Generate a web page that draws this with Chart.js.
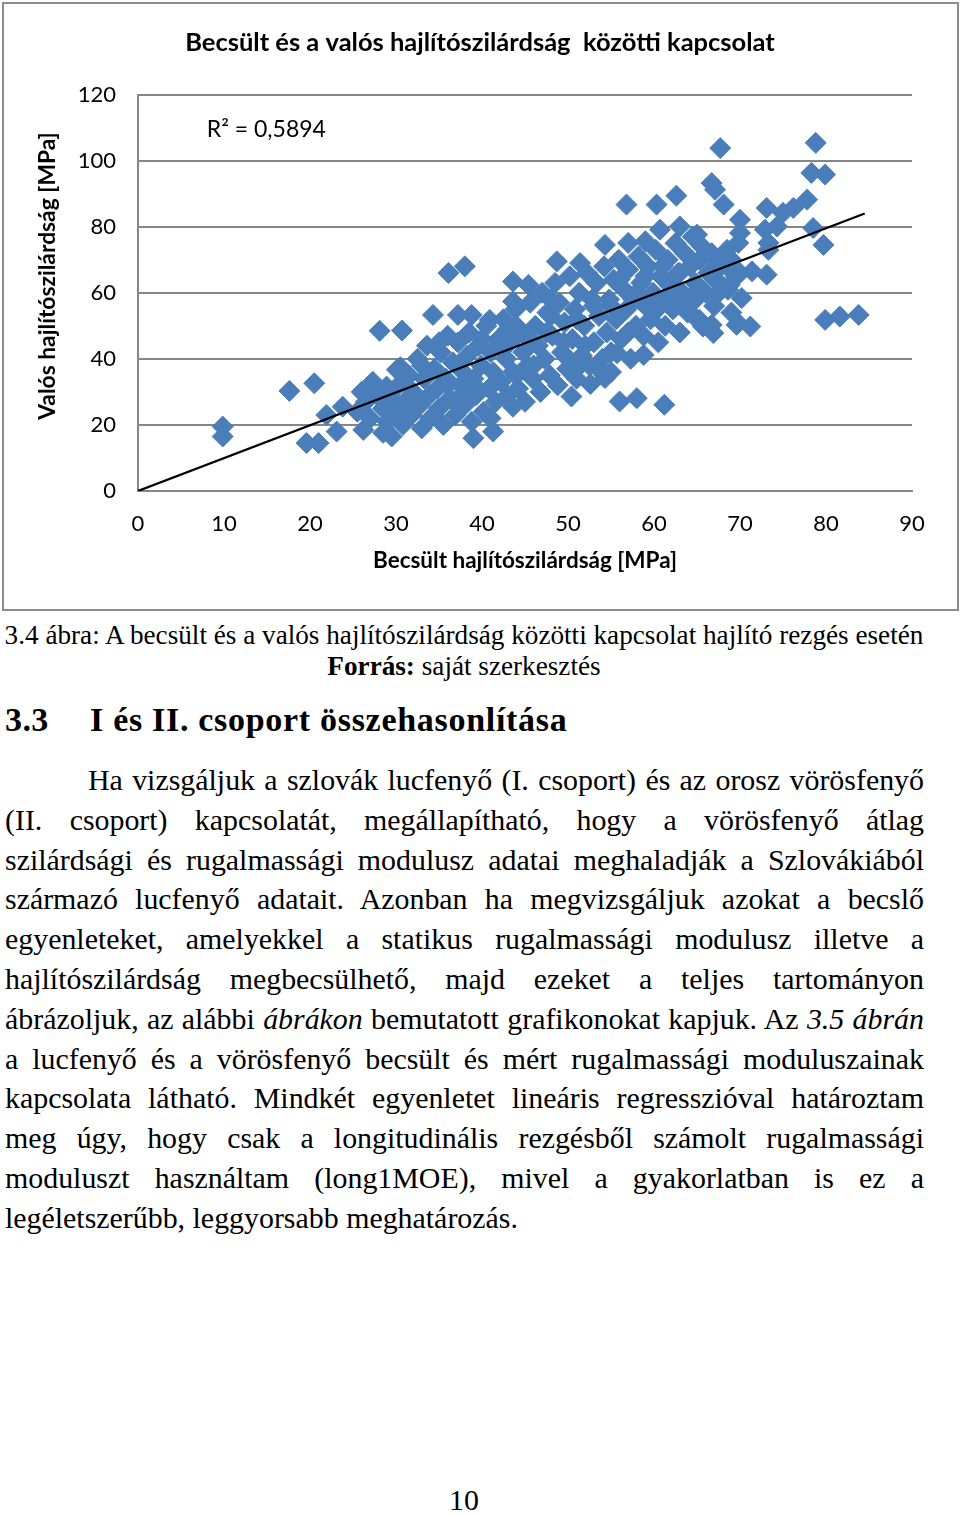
<!DOCTYPE html>
<html lang="hu">
<head>
<meta charset="utf-8">
<script src="https://cdn.jsdelivr.net/npm/chart.js@4.4.1/dist/chart.umd.min.js"></script>
<style>
body{margin:0;width:960px;height:1515px;background:#fff;position:relative;font-family:"Liberation Serif","Times New Roman",serif;color:#000}
#frame{position:absolute;left:2px;top:2px;width:953px;height:605px;border:2px solid #8c8c8c}
#wrap{position:absolute;left:5px;top:5px;width:950px;height:603px}
.ln{position:absolute;white-space:nowrap}
#par{position:absolute;left:5px;top:760px;width:919px;font-size:29.9px;line-height:39.8px}
#par div{text-align:justify;text-align-last:justify;height:39.8px;white-space:nowrap}
#par div.last{text-align:left;text-align-last:left}
</style>
</head>
<body>
<div id="frame"></div>
<div id="wrap"><canvas id="chart"></canvas></div>

<div class="ln" style="left:3px;width:922px;top:619px;font-size:27.2px;line-height:32px;text-align:center">3.4 ábra: A becsült és a valós hajlítószilárdság közötti kapcsolat hajlító rezgés esetén</div>
<div class="ln" style="left:3px;width:922px;top:650px;font-size:27.2px;line-height:32px;text-align:center"><b>Forrás:</b> saját szerkesztés</div>

<div class="ln" style="left:5px;top:699px;font-size:34px;line-height:42px;font-weight:bold;letter-spacing:0.4px">3.3</div>
<div class="ln" style="left:90px;top:699px;font-size:34px;line-height:42px;font-weight:bold;letter-spacing:0.7px">I és II. csoport összehasonlítása</div>

<div id="par">
<div style="padding-left:83px">Ha vizsgáljuk a szlovák lucfenyő (I. csoport) és az orosz vörösfenyő</div>
<div>(II. csoport) kapcsolatát, megállapítható, hogy a vörösfenyő átlag</div>
<div>szilárdsági és rugalmassági modulusz adatai meghaladják a Szlovákiából</div>
<div>származó lucfenyő adatait. Azonban ha megvizsgáljuk azokat a becslő</div>
<div>egyenleteket, amelyekkel a statikus rugalmassági modulusz illetve a</div>
<div>hajlítószilárdság megbecsülhető, majd ezeket a teljes tartományon</div>
<div>ábrázoljuk, az alábbi <i>ábrákon</i> bemutatott grafikonokat kapjuk. Az <i>3.5 ábrán</i></div>
<div>a lucfenyő és a vörösfenyő becsült és mért rugalmassági moduluszainak</div>
<div>kapcsolata látható. Mindkét egyenletet lineáris regresszióval határoztam</div>
<div>meg úgy, hogy csak a longitudinális rezgésből számolt rugalmassági</div>
<div>moduluszt használtam (long1MOE), mivel a gyakorlatban is ez a</div>
<div class="last">legéletszerűbb, leggyorsabb meghatározás.</div>
</div>

<div class="ln" style="left:434px;width:60px;top:1483px;font-size:29.9px;line-height:34px;text-align:center">10</div>

<script>
// szélső, jól kivehető pontok (becsült, valós)
var szeloBecsult = [9.85,9.85,17.6,20.5,19.6,21.0,23.1,21.9,23.8,26.2,28.5,27.3,28.9,30.1,28.1,30.7,34.3,36.1,38.0,43.6,
  45.4,43.6,37.2,38.8,40.9,30.5,43.6,39.0,41.3,29.5,56.8,60.3,54.3,57.0,59.0,48.7,51.4,56.0,58.0,55.7,
  58.8,50.4,61.2,54.3,52.6,67.7,66.7,67.1,68.1,62.6,60.7,63.0,65.0,70.0,65.7,66.9,69.6,67.1,78.8,78.3,
  79.9,73.1,75.0,76.2,77.8,70.0,69.8,72.9,74.3,73.3,78.5,79.7,73.3,68.5,70.0,71.4,73.1,68.8,65.3,64.8,
  67.3,68.6,70.2,63.0,65.3,66.7,69.8,71.2,79.9,81.6,83.8];
var szeloValos = [19.5,16.5,30.3,32.6,14.5,14.5,18.0,23.0,25.5,18.5,17.6,33.1,31.6,36.7,48.5,48.6,53.3,66.0,68.0,63.4,
  62.4,57.4,53.3,53.3,51.8,37.5,25.5,16.0,18.0,16.5,86.7,86.7,74.5,75.1,75.6,69.5,69.0,27.1,28.1,41.7,
  41.2,28.6,26.1,34.2,32.4,103.8,93.2,91.2,86.7,89.4,79.1,80.1,77.6,82.1,49.8,47.8,50.3,63.9,105.4,96.3,
  95.8,85.7,84.2,85.7,88.2,78.1,75.1,79.1,80.1,75.1,79.6,74.5,73.0,68.0,66.0,66.5,65.5,62.4,61.4,57.9,
  59.4,60.9,58.4,56.4,51.8,50.3,50.8,49.8,51.8,52.8,53.3];

// a sűrű középső felhő
var suruBecsult = [25.5,26.5,27.0,27.8,28.5,29.0,29.5,30.0,30.3,26.0,
  30.8,31.0,31.5,31.8,32.0,32.5,32.8,33.0,33.3,33.6,33.9,34.0,
  34.5,34.8,35.0,35.2,35.5,35.8,36.0,36.3,36.6,36.9,37.2,37.5,37.8,38.0,
  38.3,38.5,38.8,39.0,39.3,39.6,39.9,40.2,40.5,40.8,41.0,41.3,41.6,41.9,
  42.2,42.5,42.8,43.0,43.3,43.6,43.9,44.2,44.5,44.8,45.0,45.3,45.6,45.9,
  46.2,46.5,46.8,47.0,47.3,47.6,47.9,48.2,48.5,48.8,49.0,49.3,49.6,49.9,
  50.2,50.5,50.8,51.0,51.3,51.6,51.9,52.2,52.5,52.8,53.0,53.3,53.6,53.9,
  54.2,54.5,54.8,55.0,55.3,55.6,55.9,56.2,56.5,56.8,57.0,57.3,57.6,57.9,
  58.2,58.5,58.8,59.0,59.3,59.6,59.9,60.2,60.5,60.8,61.0,61.3,61.6,61.9,
  62.2,62.5,62.8,63.0,63.3,63.6,63.9,64.2,64.5,64.8,65.0,65.3,65.6,
  66.3,66.7,67.0,67.5,68.0,68.5,69.0,69.5,
  33.0,35.0,37.0,39.5,40.0,41.0,42.0,44.0,44.0,45.5,46.0,47.5,48.0,49.5,50.0,51.0,52.0,53.0,54.0,55.0,
  56.0,57.0,58.0,59.0,60.0,61.0,62.0,63.0,64.0,66.0,67.0,69.0,36.0,32.0,38.0,43.0,48.0,51.0,55.0];
var suruValos = [24,27,22,29,25,21,28,24,32,30,
  20,27,35,23,30,40,26,19,34,44,29,22,
  37,31,25,42,20,34,47,28,39,23,45,32,36,26,
  41,48,21,34,29,44,38,24,50,31,42,36,27,46,
  33,52,40,29,45,36,55,31,48,42,27,38,57,34,
  50,44,30,60,40,54,35,47,63,32,57,42,51,37,
  65,46,55,34,60,41,50,66,38,58,45,63,53,36,
  68,48,58,42,64,52,70,46,61,55,67,40,58,50,
  71,63,47,56,68,52,60,73,45,65,57,50,70,62,
  55,75,66,48,60,72,54,68,77,63,52,70,74,
  66,72,56,69,62,73,54,65,
  38,45,27,31,46,22,44,50,35,46,38,48,58,45,40,52,44,56,40,56,
  64,48,60,65,54,68,60,66,58,60,66,70,32,25,30,49,53,37,36];

// trendvonal (lineáris) végpontjai
var trendBecsult = [0, 84.5];
var trendValos = [0, 84];
var rNegyzet = 'R² = 0,5894';

var cim = 'Becsült és a valós hajlítószilárdság  közötti kapcsolat';
var xCim = 'Becsült hajlítószilárdság [MPa]';
var yCim = 'Valós hajlítószilárdság [MPa]';

var pontok = [];
for (var i = 0; i < szeloBecsult.length; i++) pontok.push({x: szeloBecsult[i], y: szeloValos[i]});
for (var j = 0; j < suruBecsult.length; j++) pontok.push({x: suruBecsult[j], y: suruValos[j]});
var trend = trendBecsult.map(function(v, k) { return {x: v, y: trendValos[k]}; });

var szurke = '#868686';

// y tengely felirata és az R² szöveg
var feliratok = {
  id: 'feliratok',
  afterDraw: function(chart) {
    var ctx = chart.ctx;
    var sx = chart.scales.x, sy = chart.scales.y;
    ctx.save();
    ctx.fillStyle = '#000';
    ctx.font = '23px Lato';
    ctx.textBaseline = 'middle';
    ctx.textAlign = 'left';
    ctx.fillText(rNegyzet, sx.getPixelForValue(8), sy.getPixelForValue(109.4));
    ctx.translate(43, 271);
    ctx.rotate(-Math.PI / 2);
    ctx.textAlign = 'center';
    ctx.font = 'bold 22.8px Lato';
    ctx.fillText(yCim, 0, 0);
    ctx.restore();
  }
};

var chart = new Chart(document.getElementById('chart'), {
  type: 'scatter',
  data: {
    datasets: [
      {
        type: 'line',
        data: trend,
        borderColor: '#000',
        borderWidth: 2.2,
        pointRadius: 0,
        fill: false,
        order: 0
      },
      {
        data: pontok,
        pointStyle: 'rectRot',
        pointRadius: 10.5,
        backgroundColor: '#4a7ebb',
        borderColor: '#4a7ebb',
        borderWidth: 1,
        order: 1
      }
    ]
  },
  options: {
    responsive: true,
    maintainAspectRatio: false,
    animation: false,
    // bal és jobb oldalon egyforma hely, hogy a cím középre kerüljön
    layout: {padding: {left: 43, right: 43, top: 0, bottom: 0}},
    plugins: {
      legend: {display: false},
      tooltip: {enabled: false},
      title: {
        display: true,
        text: cim,
        color: '#000',
        font: {family: 'Lato', size: 25.5, weight: 'bold'},
        padding: {top: 22, bottom: 37}
      }
    },
    scales: {
      x: {
        type: 'linear',
        min: 0,
        max: 90,
        ticks: {stepSize: 10, color: '#000', font: {family: 'Lato', size: 22}, padding: 12},
        grid: {display: false},
        border: {display: true, color: szurke, width: 2},
        title: {display: true, text: xCim, color: '#000', font: {family: 'Lato', size: 22.5, weight: 'bold'}, padding: {top: 0, bottom: 34}},
        afterFit: function(s) { s.height = 117; }
      },
      y: {
        min: 0,
        max: 120,
        ticks: {stepSize: 20, color: '#000', font: {family: 'Lato', size: 22}, padding: 22},
        grid: {color: szurke, lineWidth: 2, drawTicks: false},
        border: {display: true, color: szurke, width: 2},
        afterFit: function(s) { s.width = 90; }
      }
    }
  },
  plugins: [feliratok]
});
</script>
</body>
</html>
